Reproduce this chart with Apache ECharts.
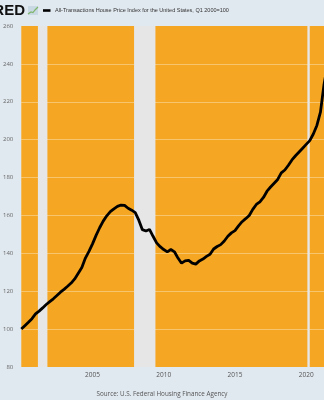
<!DOCTYPE html>
<html>
<head>
<meta charset="utf-8">
<script src="https://cdn.jsdelivr.net/npm/echarts@6/dist/echarts.min.js"></script>
<style>
html,body{margin:0;padding:0;background:#e1e9f0;}
#c{width:324px;height:400px;}
</style>
</head>
<body>
<div id="c"></div>
<script>
// Quarterly observations, starting 2000 Q1
var startYear = 2000;
var hpiValues = [
  100.0, 101.8, 103.6, 105.5, 108.0, 109.5, 111.2, 113.0,
  114.5, 116.0, 117.7, 119.5, 121.0, 122.6, 124.3, 126.5,
  129.5, 132.5, 137.5, 141.0, 145.0, 149.5, 153.5, 157.0,
  159.8, 162.0, 163.5, 164.8, 165.5, 165.3, 163.8, 162.8,
  161.5, 157.5, 152.5, 151.8, 152.6, 149.0, 145.5, 143.5,
  142.0, 140.8, 142.0, 140.8, 137.5, 134.8, 136.0, 136.3,
  134.8, 134.3, 136.0, 137.0, 138.4, 139.5, 142.3, 143.6,
  144.6, 146.5, 149.0, 150.8, 152.0, 154.5, 156.7, 158.3,
  160.0, 163.2, 165.8, 167.2, 169.5, 172.8, 175.0, 177.0,
  179.0, 182.5, 184.0, 186.5, 189.3, 191.5, 193.5, 195.5,
  197.5, 199.5, 203.0, 207.5, 214.5, 229.0, 240.0
];
// Recession periods [start, end] as [year, month]
var recessions = [
  [[2001, 3], [2001, 11]],
  [[2007, 12], [2009, 6]],
  [[2020, 2], [2020, 4]]
];
var xTickLabels = ['2005', '2010', '2015', '2020'];
var yTicks = [80, 100, 120, 140, 160, 180, 200, 220, 240, 260];

var seriesName = 'All-Transactions House Price Index for the United States, Q1 2000=100';
var sourceText = 'Source: U.S. Federal Housing Finance Agency';

function ym(y, m) { return y + (m - 1) / 12; }

var lineData = hpiValues.map(function (v, i) {
  return [startYear + Math.floor(i / 4) + (i % 4) * 0.25, v];
});
var areas = recessions.map(function (r) {
  return [{ xAxis: ym(r[0][0], r[0][1]) }, { xAxis: ym(r[1][0], r[1][1]) }];
});

var chart = echarts.init(document.getElementById('c'), null, { renderer: 'canvas' });
var font = '"Open Sans", "Liberation Sans", sans-serif';
chart.setOption({
  backgroundColor: '#e1e9f0',
  animation: false,
  grid: {
    left: 20.8, top: 26, right: 0, height: 341,
    show: true, backgroundColor: '#f5a623', borderWidth: 0,
    containLabel: false
  },
  xAxis: {
    type: 'value', min: 2000, max: 2021.25, interval: 5,
    axisLine: { show: false }, axisTick: { show: false },
    splitLine: { show: false },
    axisLabel: {
      margin: 5, fontSize: 6.5, color: '#555', fontFamily: font,
      showMinLabel: false, showMaxLabel: false,
      formatter: function (v) {
        var s = String(v);
        return xTickLabels.indexOf(s) >= 0 ? s : '';
      }
    }
  },
  yAxis: {
    type: 'value', min: yTicks[0], max: yTicks[yTicks.length - 1], interval: 20,
    axisLine: { show: false }, axisTick: { show: false },
    splitLine: { show: true, showMinLine: false, showMaxLine: false,
      lineStyle: { color: 'rgba(255,255,255,0.35)', width: 1 } },
    axisLabel: { margin: 8, fontSize: 6, color: '#666', fontFamily: font }
  },
  series: [{
    name: seriesName,
    type: 'line',
    data: lineData,
    showSymbol: false,
    symbol: 'none',
    lineStyle: { color: '#000', width: 2.8 },
    clip: true,
    markArea: {
      silent: true,
      itemStyle: { color: '#e6e6e6' },
      data: areas
    }
  }],
  graphic: [
    { type: 'text', right: 299, top: 3,
      style: { text: 'FRED', font: 'bold 15px "Liberation Sans", Arial, sans-serif', fill: '#111' } },
    { type: 'rect', shape: { x: 28, y: 6, width: 10, height: 9 },
      style: { fill: '#c9d9e4' } },
    { type: 'polyline', shape: { points: [[28, 14], [31, 12], [33, 12.5], [35, 10], [38, 7]] },
      style: { stroke: '#7fb56b', lineWidth: 1.2, fill: null } },
    { type: 'line', shape: { x1: 43, y1: 10.5, x2: 50.5, y2: 10.5 },
      style: { stroke: '#000', lineWidth: 2.6 } },
    { type: 'text', left: 55, top: 7.3,
      style: { text: seriesName, font: '5.5px "Liberation Sans", Arial, sans-serif', fill: '#333' } },
    { type: 'text', left: 'center', top: 391,
      style: { text: sourceText, font: '6.3px "Open Sans", sans-serif', fill: '#555' } }
  ]
});
</script>
</body>
</html>
